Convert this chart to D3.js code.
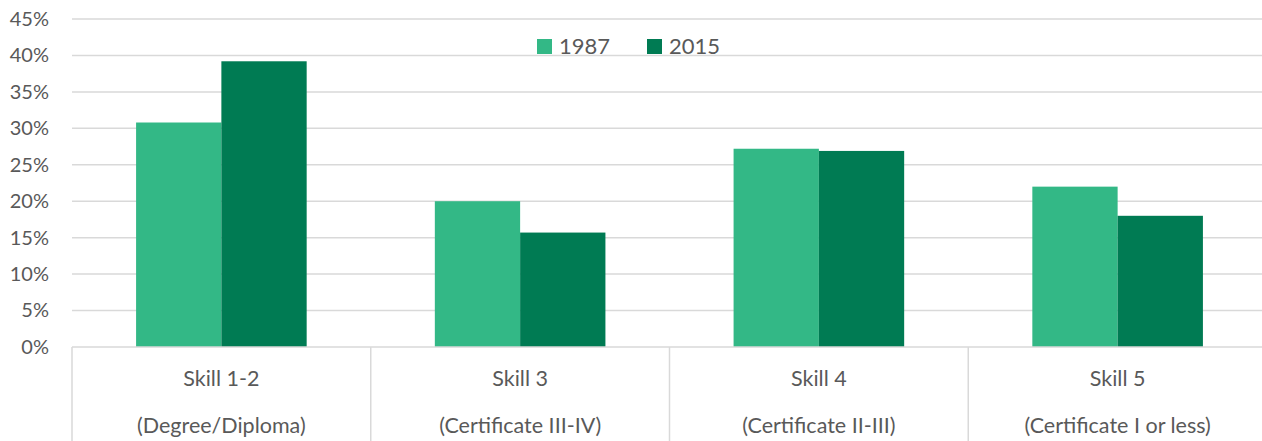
<!DOCTYPE html>
<html>
<head>
<meta charset="utf-8">
<script src="https://cdn.jsdelivr.net/npm/d3@7"></script>
<style>
  body { margin: 0; background: #fff; }
  svg { display: block; font-family: Lato, "Open Sans", sans-serif; }
  .tick text { fill: #595959; }
</style>
</head>
<body>
<svg id="chart" width="1262" height="441"></svg>
<script>
const skills = ["Skill 1-2", "Skill 3", "Skill 4", "Skill 5"];
const qualifications = ["(Degree/Diploma)", "(Certificate III-IV)", "(Certificate II-III)", "(Certificate I or less)"];
const years = ["1987", "2015"];
const values1987 = [30.8, 20.0, 27.2, 22.0];
const values2015 = [39.2, 15.7, 26.9, 18.0];
const yTicks = [0, 5, 10, 15, 20, 25, 30, 35, 40, 45];
const colors = ["#33b886", "#007b53"];

const margin = { top: 19, right: -5, bottom: 94, left: 72 },
    width = 1262 - margin.left - margin.right,
    height = 441 - margin.top - margin.bottom;

const svg = d3.select("#chart")
    .append("g")
    .attr("transform", `translate(${margin.left},${margin.top})`);

const rows = skills.map((s, i) => ({ skill: s, vals: [values1987[i], values2015[i]] }));

const x = d3.scaleBand()
    .domain(skills)
    .range([0, width])
    .paddingInner(0)
    .paddingOuter(0);

const groupW = x.bandwidth() * 0.571;
const xInner = d3.scaleBand()
    .domain(years)
    .range([(x.bandwidth() - groupW) / 2, (x.bandwidth() + groupW) / 2]);

const y = d3.scaleLinear()
    .domain([0, 45])
    .range([height, 0]);

// gridlines
svg.append("g")
    .selectAll("line")
    .data(yTicks.slice(1))
    .enter()
    .append("line")
    .attr("x1", 0)
    .attr("x2", width)
    .attr("y1", d => y(d))
    .attr("y2", d => y(d))
    .attr("stroke", "#d9d9d9")
    .attr("stroke-width", 1.5);

// y axis labels
const yAxis = svg.append("g")
    .attr("transform", "translate(-23,0)")
    .call(d3.axisLeft(y).tickValues(yTicks).tickFormat(d => d + "%").tickSize(0).tickPadding(0));
yAxis.select(".domain").remove();
yAxis.selectAll("text").attr("font-size", 20).attr("font-family", "Lato, sans-serif");

// bars
const groups = svg.selectAll(".grp")
    .data(rows)
    .enter()
    .append("g")
    .attr("transform", d => `translate(${x(d.skill)},0)`);

groups.selectAll("rect")
    .data(d => d.vals.map((v, i) => ({ year: years[i], v: v, i: i })))
    .enter()
    .append("rect")
    .attr("x", d => xInner(d.year))
    .attr("width", xInner.bandwidth())
    .attr("y", d => y(d.v))
    .attr("height", d => height - y(d.v))
    .attr("fill", d => colors[d.i]);

// baseline and category dividers
svg.append("line")
    .attr("x1", 0).attr("x2", width)
    .attr("y1", height).attr("y2", height)
    .attr("stroke", "#d9d9d9").attr("stroke-width", 1.5);

svg.selectAll(".divider")
    .data(skills.concat(["end"]))
    .enter()
    .append("line")
    .attr("x1", (d, i) => i * x.step())
    .attr("x2", (d, i) => i * x.step())
    .attr("y1", height)
    .attr("y2", height + margin.bottom)
    .attr("stroke", "#d9d9d9").attr("stroke-width", 1.5);

// category labels
groups.append("text")
    .attr("x", x.bandwidth() / 2)
    .attr("y", height + 39)
    .attr("text-anchor", "middle")
    .attr("font-size", 21.5)
    .attr("fill", "#595959")
    .text(d => d.skill);

groups.append("text")
    .attr("x", x.bandwidth() / 2)
    .attr("y", height + 86)
    .attr("text-anchor", "middle")
    .attr("font-size", 21.5)
    .attr("fill", "#595959")
    .text((d, i) => qualifications[i]);

// legend
const legend = d3.select("#chart").append("g")
    .attr("transform", "translate(537,39)");

const legendItems = legend.selectAll("g")
    .data(years)
    .enter()
    .append("g")
    .attr("transform", (d, i) => `translate(${i * 110},0)`);

legendItems.append("rect")
    .attr("width", 15)
    .attr("height", 15)
    .attr("fill", (d, i) => colors[i]);

legendItems.append("text")
    .attr("x", 22)
    .attr("y", 15)
    .attr("font-size", 22)
    .attr("fill", "#595959")
    .text(d => d);
</script>
</body>
</html>
